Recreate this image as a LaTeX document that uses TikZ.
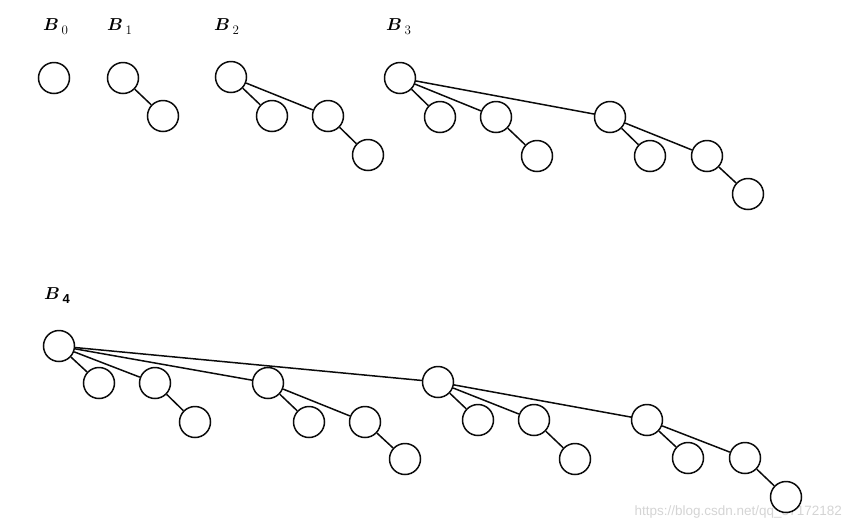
\documentclass[tikz,border=0pt]{standalone}
\usepackage{amsmath}
\usepackage{bm}
\usepackage{fontspec}
\newfontfamily\marcafont{Liberation Sans}
\usetikzlibrary{positioning}
\definecolor{tinta}{HTML}{0B0B0B}
\definecolor{marca}{HTML}{D4D4D4}
\newcommand{\arbolB}[1]{$\bm{B}$\hspace{2.5pt}\raisebox{-4pt}{\fontsize{13}{15}\selectfont #1}}
\tikzset{
  nodo/.style={circle,draw=tinta,fill=white,line width=1.5pt,inner sep=0pt,minimum size=31pt},
  arista/.style={draw=tinta,line width=1.5pt},
  titulo/.style={anchor=base west,inner sep=0pt,font=\fontsize{18}{20}\selectfont},
  marcaagua/.style={anchor=base east,inner sep=0pt,text=marca,font=\marcafont\fontsize{13.5}{16}\selectfont},
}
\begin{document}
\begin{tikzpicture}[x=1pt,y=-1pt]
\useasboundingbox (0,0) rectangle (851,528);
\node[marcaagua] (wm) at (842,515) {https://blog.csdn.net/qq\_37172182};
% B0
\node[titulo] (l0) at (43,30) {\arbolB{0}};
\node[nodo] (t0) at (54,78) {};
% B1
\node[titulo] (l1) at (107,30) {\arbolB{1}};
\node[nodo] (u0) at (123,78) {};
\node[nodo] (u1) at (163,116) {};
\draw[arista] (u0) -- (u1);
% B2
\node[titulo] (l2) at (214,30) {\arbolB{2}};
\node[nodo] (v0) at (231,77) {};
\node[nodo] (v1) at (272,116) {};
\node[nodo] (v2) at (328,116) {};
\node[nodo] (v3) at (368,155) {};
\foreach \a/\b in {0/1,0/2,2/3}
  \draw[arista] (v\a) -- (v\b);
% B3
\node[titulo] (l3) at (386,30) {\arbolB{3}};
\node[nodo] (q0) at (400,78) {};
\node[nodo] (q1) at (440,117) {};
\node[nodo] (q2) at (496,117) {};
\node[nodo] (q3) at (537,156) {};
\node[nodo] (q4) at (610,117) {};
\node[nodo] (q5) at (650,156) {};
\node[nodo] (q6) at (707,156) {};
\node[nodo] (q7) at (748,194) {};
\foreach \a/\b in {0/1,0/2,0/4,2/3,4/5,4/6,6/7}
  \draw[arista] (q\a) -- (q\b);
% B4
\node[titulo] (l4) at (44,299) {\arbolB{\marcafont\bfseries 4}};
\node[nodo] (p0) at (59,346) {};
\node[nodo] (p1) at (99,383) {};
\node[nodo] (p2) at (155,383) {};
\node[nodo] (p3) at (195,422) {};
\node[nodo] (p4) at (268,383) {};
\node[nodo] (p5) at (309,422) {};
\node[nodo] (p6) at (365,422) {};
\node[nodo] (p7) at (405,459) {};
\node[nodo] (p8) at (438,382) {};
\node[nodo] (p9) at (478,420) {};
\node[nodo] (p10) at (534,420) {};
\node[nodo] (p11) at (575,459) {};
\node[nodo] (p12) at (647,420) {};
\node[nodo] (p13) at (688,458) {};
\node[nodo] (p14) at (745,458) {};
\node[nodo] (p15) at (786,497) {};
\foreach \a/\b in {0/1,0/2,0/4,0/8,2/3,4/5,4/6,6/7,8/9,8/10,8/12,10/11,12/13,12/14,14/15}
  \draw[arista] (p\a) -- (p\b);
\end{tikzpicture}
\end{document}
